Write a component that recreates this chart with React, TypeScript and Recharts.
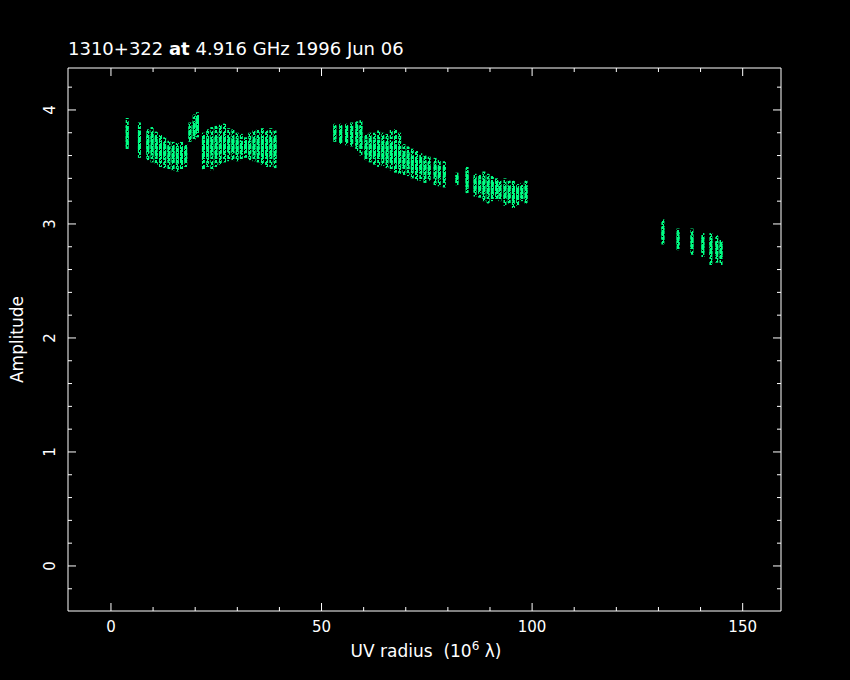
import React from 'react';
import { ComposedChart, Bar, XAxis, YAxis } from 'recharts';

// UV radius (10^6 lambda) of each visibility streak
const uvRadius = [
  3.9, 6.8, 8.8, 9.8, 10.8, 11.8, 12.8, 13.8, 14.8, 15.8, 16.8, 17.8, 18.8, 19.8, 20.6,
  22.0, 23.0, 24.0, 25.0, 26.0, 27.0, 28.0, 29.0, 30.0, 31.0, 32.0, 33.0, 34.0, 35.0, 36.0, 37.0, 38.0, 39.0,
  53.2, 54.6, 56.0, 57.2, 58.4, 59.4, 60.6, 61.6, 62.6, 63.6, 64.6, 65.6, 66.6, 67.6, 68.6, 69.6, 70.6,
  71.6, 72.6, 73.6, 74.6, 75.6, 77.0, 78.0, 79.2, 82.2, 84.6, 86.5, 87.6, 88.6, 89.6, 90.6, 91.6, 92.4,
  93.6, 94.6, 95.6, 96.6, 97.6, 98.6,
  131.1, 134.7, 138.0, 140.6, 142.5, 143.9, 144.9,
];
// full spread of amplitudes in each streak
const ampLow = [
  3.65, 3.58, 3.56, 3.54, 3.52, 3.50, 3.49, 3.48, 3.47, 3.46, 3.48, 3.50, 3.72, 3.74, 3.76,
  3.48, 3.50, 3.47, 3.50, 3.52, 3.54, 3.55, 3.56, 3.55, 3.56, 3.58, 3.56, 3.55, 3.54, 3.52, 3.50, 3.50, 3.49,
  3.72, 3.70, 3.69, 3.68, 3.64, 3.60, 3.56, 3.54, 3.52, 3.50, 3.51, 3.49, 3.47, 3.45, 3.44, 3.43, 3.42,
  3.40, 3.38, 3.38, 3.36, 3.38, 3.34, 3.33, 3.32, 3.34, 3.27, 3.24, 3.23, 3.20, 3.18, 3.20, 3.22, 3.20,
  3.16, 3.18, 3.14, 3.16, 3.20, 3.18,
  2.82, 2.77, 2.73, 2.71, 2.64, 2.66, 2.64,
];
const ampHigh = [
  3.93, 3.89, 3.83, 3.85, 3.81, 3.78, 3.76, 3.73, 3.72, 3.71, 3.72, 3.70, 3.89, 3.96, 3.98,
  3.80, 3.83, 3.85, 3.86, 3.87, 3.88, 3.84, 3.83, 3.80, 3.79, 3.76, 3.80, 3.82, 3.83, 3.84, 3.82, 3.84, 3.82,
  3.88, 3.88, 3.88, 3.89, 3.90, 3.91, 3.79, 3.80, 3.80, 3.82, 3.80, 3.79, 3.83, 3.83, 3.80, 3.70, 3.68,
  3.66, 3.64, 3.62, 3.60, 3.59, 3.58, 3.56, 3.55, 3.45, 3.50, 3.44, 3.43, 3.46, 3.44, 3.42, 3.40, 3.38,
  3.40, 3.38, 3.38, 3.35, 3.36, 3.38,
  3.04, 2.96, 2.96, 2.92, 2.92, 2.90, 2.86,
];
// densest part of each streak
const coreLow = [
  3.68, 3.64, 3.62, 3.60, 3.59, 3.57, 3.56, 3.55, 3.54, 3.53, 3.54, 3.55, 3.75, 3.77, 3.80,
  3.57, 3.59, 3.60, 3.60, 3.61, 3.62, 3.62, 3.62, 3.61, 3.61, 3.62, 3.61, 3.60, 3.60, 3.59, 3.58, 3.58, 3.57,
  3.74, 3.72, 3.71, 3.70, 3.68, 3.66, 3.60, 3.59, 3.58, 3.57, 3.56, 3.55, 3.54, 3.52, 3.51, 3.49, 3.48,
  3.47, 3.45, 3.44, 3.43, 3.43, 3.40, 3.39, 3.38, 3.36, 3.32, 3.28, 3.27, 3.26, 3.25, 3.25, 3.26, 3.24,
  3.22, 3.22, 3.20, 3.21, 3.22, 3.22,
  2.86, 2.81, 2.78, 2.75, 2.72, 2.72, 2.70,
];
const coreHigh = [
  3.86, 3.82, 3.78, 3.79, 3.76, 3.73, 3.70, 3.68, 3.66, 3.66, 3.67, 3.66, 3.85, 3.90, 3.93,
  3.74, 3.75, 3.76, 3.77, 3.78, 3.78, 3.77, 3.75, 3.74, 3.73, 3.71, 3.73, 3.75, 3.76, 3.77, 3.76, 3.76, 3.75,
  3.86, 3.86, 3.86, 3.86, 3.87, 3.86, 3.74, 3.75, 3.74, 3.74, 3.72, 3.71, 3.72, 3.70, 3.68, 3.64, 3.62,
  3.60, 3.58, 3.57, 3.55, 3.54, 3.52, 3.51, 3.50, 3.43, 3.46, 3.41, 3.39, 3.40, 3.39, 3.37, 3.36, 3.35,
  3.35, 3.34, 3.33, 3.32, 3.33, 3.34,
  2.98, 2.92, 2.90, 2.88, 2.87, 2.85, 2.84,
];

const xTicks = [0, 10, 20, 30, 40, 50, 60, 70, 80, 90, 100, 110, 120, 130, 140, 150];
const xTickLabels = [0, 50, 100, 150];
const yTicks = [-0.2, 0, 0.2, 0.4, 0.6, 0.8, 1, 1.2, 1.4, 1.6, 1.8, 2, 2.2, 2.4, 2.6, 2.8, 3, 3.2, 3.4, 3.6, 3.8, 4, 4.2];
const yTickLabels = [0, 1, 2, 3, 4];

const titleParts = ['1310+322 ', 'at', ' 4.916 GHz 1996 Jun 06'];
const xAxisTitle = 'UV radius  (10';
const xAxisExp = '6';
const xAxisUnit = ' λ)';
const yAxisTitle = 'Amplitude';

const data = uvRadius.map((r, i) => ({
  r,
  outer: [ampLow[i], ampHigh[i]],
  core: [coreLow[i], coreHigh[i]],
}));

const WHITE = '#ffffff';
const GREEN = '#00ff84';
const FONT = '"DejaVu Sans", sans-serif';
const X_DOMAIN = [-10.2, 159.1];
const Y_DOMAIN = [-0.395, 4.368];

const isMajorY = (v: number) => yTickLabels.some((t) => Math.abs(t - v) < 1e-6);
const isMajorX = (v: number) => xTickLabels.some((t) => Math.abs(t - v) < 1e-6);

const BottomTick = (props: any) => {
  const { x, y, payload } = props;
  const major = isMajorX(payload.value);
  return (
    <g>
      <line x1={x} y1={y} x2={x} y2={y - (major ? 8 : 4)} stroke={WHITE} strokeWidth={1} />
      {major && (
        <text x={x} y={y + 21} fill={WHITE} textAnchor="middle" fontSize={15} fontFamily={FONT}>
          {payload.value}
        </text>
      )}
    </g>
  );
};

const TopTick = (props: any) => {
  const { x, y, payload } = props;
  const major = isMajorX(payload.value);
  return <line x1={x} y1={y} x2={x} y2={y + (major ? 8 : 4)} stroke={WHITE} strokeWidth={1} />;
};

const LeftTick = (props: any) => {
  const { x, y, payload } = props;
  const major = isMajorY(payload.value);
  const lx = x - 13;
  return (
    <g>
      <line x1={x} y1={y} x2={x + (major ? 8 : 4)} y2={y} stroke={WHITE} strokeWidth={1} />
      {major && (
        <text
          x={lx}
          y={y}
          fill={WHITE}
          textAnchor="middle"
          fontSize={15}
          fontFamily={FONT}
          transform={`rotate(-90, ${lx}, ${y})`}
        >
          {Math.round(payload.value)}
        </text>
      )}
    </g>
  );
};

const RightTick = (props: any) => {
  const { x, y, payload } = props;
  const major = isMajorY(payload.value);
  return <line x1={x} y1={y} x2={x - (major ? 8 : 4)} y2={y} stroke={WHITE} strokeWidth={1} />;
};

export default function App() {
  return (
    <div style={{ position: 'absolute', left: 0, top: 0, width: 850, height: 680, background: '#000', overflow: 'hidden' }}>
      <svg width={0} height={0} style={{ position: 'absolute' }}>
        <defs>
          <pattern id="sparse" width={6} height={10} patternUnits="userSpaceOnUse">
            <rect x={0} y={0} width={1} height={3} fill={GREEN} />
            <rect x={1} y={2} width={1} height={3} fill={GREEN} />
            <rect x={2} y={1} width={1} height={4} fill={GREEN} />
            <rect x={3} y={4} width={1} height={3} fill={GREEN} />
            <rect x={4} y={1} width={1} height={3} fill={GREEN} />
            <rect x={5} y={5} width={1} height={4} fill={GREEN} />
            <rect x={0} y={5} width={1} height={4} fill={GREEN} />
            <rect x={2} y={6} width={1} height={3} fill={GREEN} />
            <rect x={4} y={6} width={1} height={4} fill={GREEN} />
            <rect x={1} y={7} width={1} height={2} fill={GREEN} />
            <rect x={3} y={0} width={1} height={3} fill={GREEN} />
            <rect x={5} y={0} width={1} height={3} fill={GREEN} />
            <rect x={3} y={8} width={1} height={2} fill={GREEN} />
          </pattern>
          <pattern id="dense" width={5} height={7} patternUnits="userSpaceOnUse">
            <rect x={0} y={0} width={5} height={7} fill={GREEN} />
            <rect x={0} y={2} width={1} height={1} fill="#000" />
            <rect x={2} y={5} width={1} height={1} fill="#000" />
            <rect x={4} y={3} width={1} height={1} fill="#000" />
          </pattern>
        </defs>
      </svg>
      <ComposedChart
        width={850}
        height={680}
        data={data}
        margin={{ top: 58, right: 59, bottom: 19, left: 28 }}
      >
        <XAxis
          xAxisId="bottom"
          dataKey="r"
          type="number"
          orientation="bottom"
          domain={X_DOMAIN}
          allowDataOverflow
          ticks={xTicks}
          interval={0}
          height={50}
          tickSize={0}
          tickMargin={0}
          tickLine={false}
          axisLine={{ stroke: WHITE, strokeWidth: 1 }}
          tick={<BottomTick />}
        />
        <XAxis
          xAxisId="top"
          dataKey="r"
          type="number"
          orientation="top"
          domain={X_DOMAIN}
          allowDataOverflow
          ticks={xTicks}
          interval={0}
          height={10}
          tickSize={0}
          tickMargin={0}
          tickLine={false}
          axisLine={{ stroke: WHITE, strokeWidth: 1 }}
          tick={<TopTick />}
        />
        <YAxis
          yAxisId="left"
          type="number"
          orientation="left"
          domain={Y_DOMAIN}
          allowDataOverflow
          ticks={yTicks}
          interval={0}
          width={40}
          tickSize={0}
          tickMargin={0}
          tickLine={false}
          axisLine={{ stroke: WHITE, strokeWidth: 1 }}
          tick={<LeftTick />}
        />
        <YAxis
          yAxisId="right"
          type="number"
          orientation="right"
          domain={Y_DOMAIN}
          allowDataOverflow
          ticks={yTicks}
          interval={0}
          width={10}
          tickSize={0}
          tickMargin={0}
          tickLine={false}
          axisLine={{ stroke: WHITE, strokeWidth: 1 }}
          tick={<RightTick />}
        />
        <Bar
          dataKey="outer"
          xAxisId="bottom"
          yAxisId="left"
          barSize={3}
          fill="url(#sparse)"
          isAnimationActive={false}
        />
        <Bar
          dataKey="core"
          xAxisId="top"
          yAxisId="right"
          barSize={3}
          fill="url(#dense)"
          isAnimationActive={false}
        />
      </ComposedChart>
      <div
        style={{
          position: 'absolute',
          left: 68,
          top: 38,
          color: WHITE,
          fontFamily: FONT,
          fontSize: 18,
          lineHeight: '22px',
          whiteSpace: 'pre',
        }}
      >
        {titleParts[0]}
        <b>{titleParts[1]}</b>
        {titleParts[2]}
      </div>
      <svg width={850} height={680} style={{ position: 'absolute', left: 0, top: 0, pointerEvents: 'none' }}>
        <text x={426} y={657} fill={WHITE} textAnchor="middle" fontSize={17} fontFamily={FONT} xmlSpace="preserve">
          {xAxisTitle}
          <tspan dy={-7} fontSize={12}>{xAxisExp}</tspan>
          <tspan dy={7}>{xAxisUnit}</tspan>
        </text>
        <text
          x={23}
          y={339.5}
          fill={WHITE}
          textAnchor="middle"
          fontSize={17}
          fontFamily={FONT}
          transform="rotate(-90, 23, 339.5)"
        >
          {yAxisTitle}
        </text>
      </svg>
    </div>
  );
}
